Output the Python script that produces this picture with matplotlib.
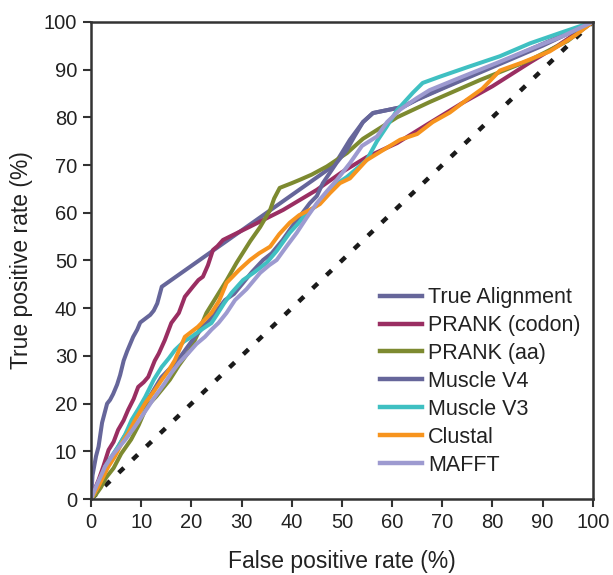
import matplotlib
matplotlib.use("Agg")
import matplotlib.pyplot as plt

plt.rcParams['font.family'] = ['Liberation Sans', 'DejaVu Sans']

labels = ["True Alignment", "PRANK (codon)", "PRANK (aa)", "Muscle V4", "Muscle V3", "Clustal", "MAFFT"]
colors = ["#66669a", "#9a2e62", "#7d8a30", "#66669a", "#3fc0c2", "#f7941e", "#9d9ad0"]

true_x = [0, 0.3, 1, 1.5, 2.2, 3.2, 3.8, 4.4, 5.2, 5.8, 6.5, 7.2, 7.8, 8.4, 9.2, 9.8, 10.8, 11.8, 12.5, 13.2, 14.1,
          48.5, 51.6, 54.2, 56.2, 62.2, 65, 100]
true_y = [0, 5, 9, 11, 16, 20, 20.8, 22, 24, 26, 29, 31, 32.5, 34, 35.5, 37, 37.8, 38.6, 39.5, 41, 44.5,
          70, 75.3, 79, 80.9, 82.2, 83.8, 100]

prc_x = [0, 0.5, 1.5, 2.5, 3.5, 4.5, 5.4, 6.5, 7.4, 8.5, 9.4, 10.5, 11.4, 12.7, 13.5, 14.7, 16, 17.5, 18.7, 20.3,
         21.4, 22.3, 23.3, 24.3, 25.2, 26.3, 31.7, 38.3, 45, 50, 55, 61, 67, 74, 80, 87.5, 93, 100]
prc_y = [0, 1.5, 4, 7, 10.3, 12, 14.5, 16.5, 18.7, 21, 23.5, 24.5, 25.6, 29, 30.5, 33.3, 36.9, 39, 42.4, 44.5,
         45.9, 46.6, 49, 52.2, 53, 54.3, 57.1, 60.6, 64.8, 68.5, 71.7, 74.6, 78.5, 83, 86.5, 91.5, 95, 100]

praa_x = [0, 1, 2, 3, 4.5, 6, 8, 9.5, 11.1, 13, 15.7, 17.5, 19.7, 21, 23, 25, 27, 29, 31.7, 33.7, 35.7, 36.5,
          37.6, 38.3, 40, 41.6, 44, 47, 51, 54.2, 61, 67.5, 77.5, 87.5, 95, 100]
praa_y = [0, 1, 2.5, 4.5, 6.5, 9.5, 12.5, 15.5, 19.4, 21.5, 25, 28, 31.2, 34, 39, 42.4, 45.8, 49.5, 54, 57, 60.6, 63,
          65.2, 65.5, 66.2, 66.9, 68, 69.7, 72.5, 75.5, 80, 83.2, 87.8, 92, 96, 100]

mv4_x = [0, 1, 2.5, 4, 6, 8, 10, 12, 14, 17.3, 20.7, 24, 26.7, 28.5, 30.3, 32, 34.3, 36, 38.2, 40, 41.6, 43.6,
         45, 46.2, 48.9, 51, 52.5, 54.2, 56.2, 59, 62.2, 65, 70, 80, 90, 100]
mv4_y = [0, 2.5, 5.5, 8.5, 12, 15.5, 19, 22, 25.5, 29.1, 34, 38, 41.7, 43, 45.3, 47.5, 50.1, 51.5, 54.3, 57, 59.2, 62,
         63.5, 66.2, 70.4, 73.2, 76, 79, 80.9, 81.5, 82.2, 83.7, 86, 90.5, 95, 100]

mv3_x = [0, 1, 2.8, 4, 5.4, 6.8, 8.1, 9.5, 10.8, 12.5, 14.1, 15.5, 16.7, 18.5, 20, 22, 24, 25, 26.5, 28, 30.3,
         32.5, 35, 37, 39.6, 41.5, 43, 45, 48.2, 51, 54.9, 57, 58.9, 61, 64.1, 66.1, 69.5, 75, 81.5, 87.5, 93, 100]
mv3_y = [0, 1.9, 6.8, 8.8, 11, 13.5, 16.6, 19, 21.4, 25, 27.7, 29.5, 31.2, 33, 34, 35.5, 36.9, 38.5, 41, 43.2, 45.9,
         47.5, 49.5, 52, 55.8, 58, 60, 61.5, 65.5, 67.5, 71, 75, 78, 81.5, 85.1, 87.2, 88.5, 90.5, 92.8, 95.5, 97.5, 100]

clu_x = [0, 1.4, 3.4, 4.8, 6.1, 7.5, 8.8, 10.8, 12.5, 14.1, 15.5, 16.7, 18.7, 21.3, 24, 25.5, 26.7, 27, 29.5,
         31.7, 33.5, 35.7, 37.5, 39.6, 41.5, 43.6, 45.6, 47.6, 49.6, 51.6, 54.9, 58, 61.6, 65, 68.1, 71.5, 74.8,
         78, 81.5, 86, 91.4, 94, 96.7, 100]
clu_y = [0, 2.5, 6.7, 9, 11.7, 14, 16.6, 20.1, 22.5, 25, 27, 29.1, 34, 36.1, 39, 41.5, 44.5, 45.3, 48, 50.1, 51.5,
         52.9, 55.5, 57.9, 59.5, 60.6, 61.8, 64.1, 66.2, 67.2, 71, 73, 75.3, 76.5, 79, 81, 83.6, 86, 89.8, 91.5,
         93.8, 95.5, 97.3, 100]

maf_x = [0, 1, 2.8, 4.5, 6.8, 8.5, 10.1, 11.5, 12.7, 14.5, 16, 17.5, 19.4, 21, 22.7, 24, 25.4, 27, 28.7, 31,
         33.7, 35.5, 37, 39, 41, 43, 45, 47, 49, 51.6, 54, 57, 59, 61.6, 64.9, 67.5, 74, 80.9, 88, 94, 100]
maf_y = [0, 2.6, 6.8, 9.5, 12.4, 14.8, 17.3, 19.5, 21.4, 24, 26.4, 28.5, 30.6, 32.5, 34, 35.5, 36.9, 39, 41.7,
         44, 47.4, 49, 50.1, 53, 55.8, 59, 62, 64.5, 66.9, 70.4, 74, 76, 79, 81.6, 84, 85.7, 88.5, 91.4, 94.5, 97, 100]

diag = [0, 100]
ticks = list(range(0, 101, 10))

series = [(true_x, true_y), (prc_x, prc_y), (praa_x, praa_y), (mv4_x, mv4_y),
          (mv3_x, mv3_y), (clu_x, clu_y), (maf_x, maf_y)]

fig = plt.figure(figsize=(6.13, 5.75), dpi=100)
ax = fig.add_axes([0.1485, 0.132, 0.8185, 0.830])

ax.plot(diag, diag, color="#1a1a1a", lw=3.2, linestyle=(0, (1.6, 2.7)), dash_capstyle='butt', zorder=1)
for (xs, ys), lab, col in zip(series, labels, colors):
    ax.plot(xs, ys, color=col, lw=2.9, label=lab, solid_joinstyle='round', zorder=2)

ax.set_xlim(0, 100)
ax.set_ylim(0, 100)
ax.set_xticks(ticks)
ax.set_yticks(ticks)
ax.tick_params(direction='out', length=6, width=1.5, color="#333333", labelsize=14.5, pad=4,
               labelcolor="#222222")
for s in ax.spines.values():
    s.set_color("#333333")
    s.set_linewidth(1.8)
ax.set_xlabel("False positive rate (%)", fontsize=16.5, labelpad=13, color="#222222")
ax.set_ylabel("True positive rate (%)", fontsize=16.5, labelpad=8, color="#222222")

leg = ax.legend(loc='upper left', bbox_to_anchor=(0.558, 0.462), frameon=False, fontsize=15.5,
                handlelength=1.95, handletextpad=0.3, labelspacing=0.32, borderaxespad=0)
for h in leg.get_lines():
    h.set_linewidth(3.2)
for t in leg.get_texts():
    t.set_color("#222222")

fig.savefig("out.png", dpi=100)
